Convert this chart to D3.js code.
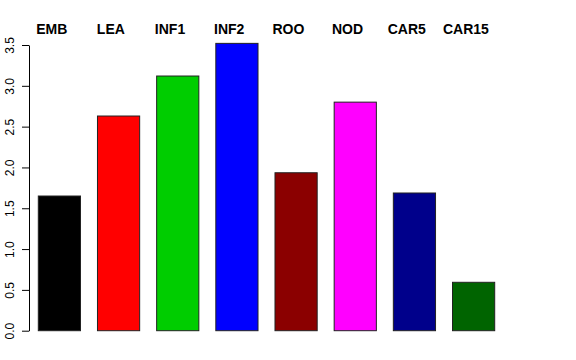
<!DOCTYPE html>
<html>
<head>
<meta charset="utf-8">
<script src="https://cdn.jsdelivr.net/npm/d3@7"></script>
<style>
  body { margin: 0; background: #fff; }
  svg { display: block; font-family: "Liberation Sans", Arial, sans-serif; }
</style>
</head>
<body>
<svg class="chart"></svg>
<script>
const categories = ["EMB", "LEA", "INF1", "INF2", "ROO", "NOD", "CAR5", "CAR15"];
const values = [1.65, 2.63, 3.12, 3.52, 1.935, 2.80, 1.687, 0.593];
const colors = ["#000000", "#FF0000", "#00CD00", "#0000FF", "#8B0000", "#FF00FF", "#00008B", "#006400"];
const yTicks = [0, 0.5, 1, 1.5, 2, 2.5, 3, 3.5];

const width = 576;
const height = 360;

const svg = d3.select(".chart").attr("width", width).attr("height", height);

const xScale = d3
  .scaleBand()
  .domain(categories)
  .range([38.3, 494.7])
  .paddingInner(0.287)
  .paddingOuter(0);

const yScale = d3.scaleLinear().domain([0, 3.5]).range([330.7, 45]);

// bars
svg
  .selectAll("rect.bar")
  .data(categories)
  .enter()
  .append("rect")
  .attr("class", "bar")
  .attr("x", (d) => xScale(d))
  .attr("y", (d, i) => yScale(values[i]))
  .attr("width", xScale.bandwidth())
  .attr("height", (d, i) => yScale(0) - yScale(values[i]))
  .attr("fill", (d, i) => colors[i])
  .attr("stroke", "#222")
  .attr("stroke-width", 1);

// labels on top
svg
  .selectAll("text.lab")
  .data(categories)
  .enter()
  .append("text")
  .attr("class", "lab")
  .attr("x", (d) => xScale(d) + xScale.bandwidth() / 2 - 7.7)
  .attr("y", 34)
  .attr("text-anchor", "middle")
  .attr("font-size", 14)
  .attr("font-weight", "bold")
  .text((d) => d);

// y axis, R style
const yAxis = d3
  .axisLeft(yScale)
  .tickValues(yTicks)
  .tickFormat(d3.format(".1f"))
  .tickSize(7)
  .tickSizeOuter(0);

const g = svg.append("g").attr("transform", "translate(29,0)").call(yAxis);
g.selectAll("path, line").attr("stroke", "#000");
g.selectAll("text")
  .attr("transform", "rotate(-90)")
  .attr("x", 0)
  .attr("y", -15.5)
  .attr("dy", 0)
  .attr("text-anchor", "middle")
  .attr("font-size", 12)
  .attr("fill", "#000");
</script>
</body>
</html>
